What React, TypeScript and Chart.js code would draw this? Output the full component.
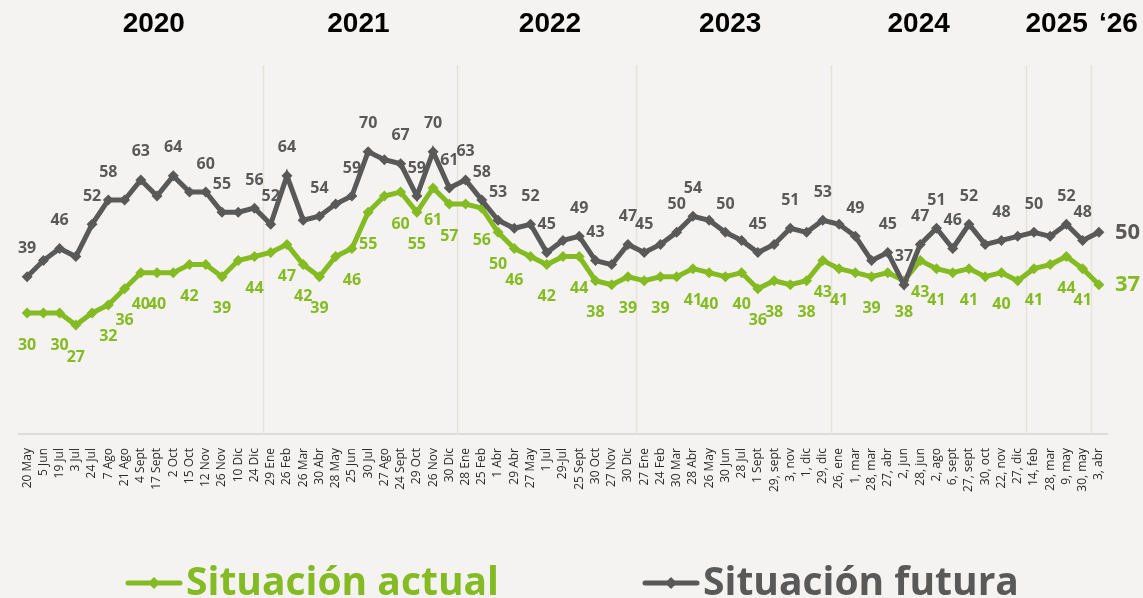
import React, { useEffect, useRef } from "react";
import { Chart, registerables } from "chart.js";

Chart.register(...registerables);

const categories = [
  "20 May", "5 Jun", "19 Jul", "3 Jul", "24 Jul", "7 Ago", "21 Ago", "4 Sept", "17 Sept", "2 Oct",
  "15 Oct", "12 Nov", "26 Nov", "10 Dic", "24 Dic", "29 Ene", "26 Feb", "26 Mar", "30 Abr", "28 May",
  "25 Jun", "30 Jul", "27 Ago", "24 Sept", "29 Oct", "26 Nov", "30 Dic", "28 Ene", "25 Feb", "1 Abr",
  "29 Abr", "27 May", "1 Jul", "29-Jul", "25 Sept", "30 Oct", "27 Nov", "30 Dic", "27 Ene", "24 Feb",
  "30 Mar", "28 Abr", "26 May", "30 Jun", "28 Jul", "1 Sept", "29, sept", "3, nov", "1, dic", "29, dic",
  "26, ene", "1, mar", "28, mar", "27, abr", "2, jun", "28, jun", "2, ago", "6, sept", "27, sept", "30, oct",
  "22, nov", "27, dic", "14, feb", "28, mar", "9, may", "30, may", "3, abr",
];

const situacionActual = [
  30, 30, 30, 27, 30, 32, 36, 40, 40, 40,
  42, 42, 39, 43, 44, 45, 47, 42, 39, 44,
  46, 55, 59, 60, 55, 61, 57, 57, 56, 50,
  46, 44, 42, 44, 44, 38, 37, 39, 38, 39,
  39, 41, 40, 39, 40, 36, 38, 37, 38, 43,
  41, 40, 39, 40, 38, 43, 41, 40, 41, 39,
  40, 38, 41, 42, 44, 41, 37,
];

const situacionFutura = [
  39, 43, 46, 44, 52, 58, 58, 63, 59, 64,
  60, 60, 55, 55, 56, 52, 64, 53, 54, 57,
  59, 70, 68, 67, 59, 70, 61, 63, 58, 53,
  51, 52, 45, 48, 49, 43, 42, 47, 45, 47,
  50, 54, 53, 50, 48, 45, 47, 51, 50, 53,
  52, 49, 43, 45, 37, 47, 51, 46, 52, 47,
  48, 49, 50, 49, 52, 48, 50,
];

// indices of points whose value is printed
const actualLabeled = [0, 2, 3, 5, 6, 7, 8, 10, 12, 14, 16, 17, 18, 20, 21, 23, 24, 25, 26, 28, 29, 30, 32, 34, 35, 37, 39, 41, 42, 44, 45, 46, 48, 49, 50, 52, 54, 55, 56, 58, 60, 62, 64, 65];
const futuraLabeled = [0, 2, 4, 5, 7, 9, 11, 12, 14, 15, 16, 18, 20, 21, 23, 24, 25, 26, 27, 28, 29, 31, 32, 34, 35, 37, 38, 40, 41, 43, 45, 47, 49, 51, 53, 54, 55, 56, 57, 58, 60, 62, 64, 65];

const yearLabels = ["2020", "2021", "2022", "2023", "2024", "2025", "\u201826"];
const yearCenterIndex = [7.8, 20.4, 32.2, 43.3, 54.9, 63.4, 67.2];
const yearLastIndex = [14, 26, 37, 49, 61, 65];

const seriesNames = ["Situación actual", "Situación futura"];

const GREEN = "#84bb22";
const GRAY = "#595959";
const BG = "#f4f3f1";
const FONT = "'Open Sans', 'Noto Sans', sans-serif";

function drawDiamond(ctx: CanvasRenderingContext2D, x: number, y: number, r: number, color: string) {
  ctx.beginPath();
  ctx.moveTo(x, y - r);
  ctx.lineTo(x + r, y);
  ctx.lineTo(x, y + r);
  ctx.lineTo(x - r, y);
  ctx.closePath();
  ctx.fillStyle = color;
  ctx.fill();
}

const decorPlugin = {
  id: "decor",
  beforeDatasetsDraw(chart: any) {
    const { ctx, chartArea, scales } = chart;
    const x = scales.x;
    ctx.save();
    ctx.strokeStyle = "#e6e3da";
    ctx.lineWidth = 1.5;
    yearLastIndex.forEach((idx) => {
      const px = Math.round(x.getPixelForValue(idx + 0.5)) + 0.5;
      ctx.beginPath();
      ctx.moveTo(px, chartArea.top - 6);
      ctx.lineTo(px, chartArea.bottom);
      ctx.stroke();
    });
    ctx.restore();
  },
  afterDatasetsDraw(chart: any) {
    const { ctx, scales } = chart;
    const x = scales.x;
    ctx.save();
    // year headers
    ctx.fillStyle = "#000";
    ctx.font = "bold 28px 'Liberation Sans', Arial, sans-serif";
    ctx.textAlign = "center";
    ctx.textBaseline = "middle";
    yearLabels.forEach((lab, i) => {
      ctx.fillText(lab, x.getPixelForValue(yearCenterIndex[i]), 24);
    });

    // data labels
    const metaA = chart.getDatasetMeta(0);
    const metaF = chart.getDatasetMeta(1);
    ctx.font = `bold 16px ${FONT}`;
    ctx.textAlign = "center";
    ctx.textBaseline = "middle";
    ctx.fillStyle = GREEN;
    actualLabeled.forEach((i) => {
      const p = metaA.data[i];
      ctx.fillText(String(situacionActual[i]), p.x, p.y + 32);
    });
    ctx.fillStyle = GRAY;
    futuraLabeled.forEach((i) => {
      const p = metaF.data[i];
      ctx.fillText(String(situacionFutura[i]), p.x, p.y - 28);
    });
    // final values
    const last = categories.length - 1;
    ctx.font = `bold 22px ${FONT}`;
    ctx.textAlign = "left";
    ctx.fillStyle = GRAY;
    ctx.fillText(String(situacionFutura[last]), metaF.data[last].x + 16, metaF.data[last].y);
    ctx.fillStyle = GREEN;
    ctx.fillText(String(situacionActual[last]), metaA.data[last].x + 16, metaA.data[last].y);

    // legend
    const items = [
      { name: seriesNames[0], color: GREEN, x0: 126 },
      { name: seriesNames[1], color: GRAY, x0: 643 },
    ];
    const ly = 583;
    items.forEach((it) => {
      ctx.strokeStyle = it.color;
      ctx.lineWidth = 5;
      ctx.lineCap = "round";
      ctx.beginPath();
      ctx.moveTo(it.x0 + 2, ly);
      ctx.lineTo(it.x0 + 54, ly);
      ctx.stroke();
      drawDiamond(ctx, it.x0 + 28, ly, 6, it.color);
      ctx.fillStyle = it.color;
      ctx.font = `bold 39px ${FONT}`;
      ctx.textAlign = "left";
      ctx.textBaseline = "alphabetic";
      ctx.fillText(it.name, it.x0 + 60, 595);
    });
    ctx.restore();
  },
};

export default function App() {
  const ref = useRef<HTMLCanvasElement | null>(null);

  useEffect(() => {
    document.body.style.margin = "0";
    document.body.style.background = BG;
    const canvas = ref.current;
    if (!canvas) return;
    const chart = new Chart(canvas, {
      type: "line",
      data: {
        labels: categories,
        datasets: [
          {
            label: seriesNames[0],
            data: situacionActual,
            borderColor: GREEN,
            backgroundColor: GREEN,
            borderWidth: 5,
            pointStyle: "rectRot",
            pointRadius: 5.5,
            pointBorderWidth: 0,
            pointBackgroundColor: GREEN,
            tension: 0,
            order: 1,
          },
          {
            label: seriesNames[1],
            data: situacionFutura,
            borderColor: GRAY,
            backgroundColor: GRAY,
            borderWidth: 5,
            pointStyle: "rectRot",
            pointRadius: 5.5,
            pointBorderWidth: 0,
            pointBackgroundColor: GRAY,
            tension: 0,
            order: 0,
          },
        ],
      },
      options: {
        responsive: false,
        animation: false,
        events: [],
        layout: { padding: { left: 19, right: 36, top: 71, bottom: 0 } },
        plugins: { legend: { display: false }, tooltip: { enabled: false } },
        scales: {
          x: {
            offset: true,
            grid: { display: false },
            border: { display: true, color: "#dcdcdc", width: 2 },
            ticks: {
              autoSkip: false,
              maxRotation: 90,
              minRotation: 90,
              padding: 6,
              color: "#2b2b2b",
              font: { size: 12, family: FONT },
            },
            afterFit: (scale: any) => {
              scale.height = 164;
            },
          },
          y: {
            display: false,
            min: 0,
            max: 90,
          },
        },
      },
      plugins: [decorPlugin],
    });
    return () => chart.destroy();
  }, []);

  return (
    <div style={{ width: 1143, height: 598, background: BG, overflow: "hidden" }}>
      <canvas ref={ref} width={1143} height={598} style={{ display: "block" }} />
    </div>
  );
}
